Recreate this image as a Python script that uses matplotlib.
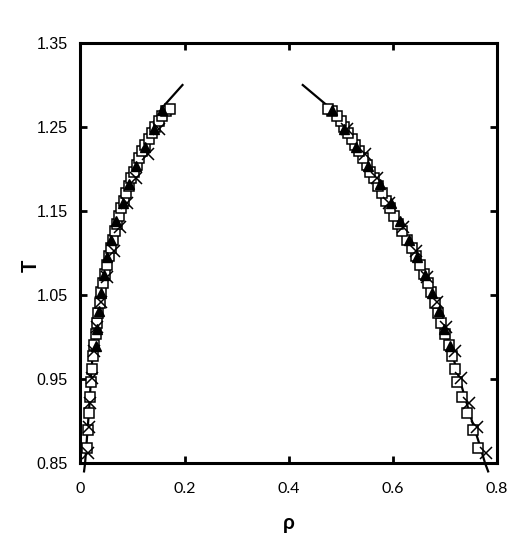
import matplotlib
matplotlib.use("Agg")
import matplotlib.pyplot as plt

# coexistence curve (solid line)
line_T = [0.84, 0.85, 0.875, 0.90, 0.925, 0.95, 0.975, 1.00, 1.025, 1.05, 1.075,
          1.10, 1.125, 1.15, 1.175, 1.20, 1.225, 1.25, 1.275, 1.30]
line_rho_low = [0.007, 0.009, 0.012, 0.015, 0.018, 0.020, 0.023, 0.027, 0.032, 0.037, 0.045,
                0.053, 0.063, 0.074, 0.087, 0.101, 0.117, 0.135, 0.160, 0.196]
line_rho_high = [0.783, 0.777, 0.765, 0.752, 0.740, 0.728, 0.716, 0.704, 0.691, 0.676, 0.659,
                 0.640, 0.619, 0.597, 0.577, 0.557, 0.535, 0.512, 0.475, 0.427]

# open squares
sq_T = [0.868, 0.889, 0.910, 0.929, 0.947, 0.962, 0.977, 0.991, 1.004, 1.017,
        1.029, 1.041, 1.053, 1.064, 1.075, 1.086, 1.096, 1.106, 1.116, 1.126,
        1.135, 1.144, 1.153, 1.162, 1.171, 1.180, 1.189, 1.197, 1.205, 1.213,
        1.221, 1.229, 1.236, 1.243, 1.250, 1.257, 1.263, 1.269, 1.272]
sq_rho_low = [0.013, 0.015, 0.017, 0.019, 0.021, 0.022, 0.024, 0.026, 0.029, 0.031,
              0.034, 0.037, 0.040, 0.043, 0.047, 0.051, 0.054, 0.058, 0.062, 0.066,
              0.070, 0.074, 0.078, 0.083, 0.088, 0.093, 0.098, 0.103, 0.108, 0.113,
              0.119, 0.125, 0.131, 0.137, 0.143, 0.150, 0.157, 0.164, 0.172]
sq_rho_high = [0.764, 0.753, 0.743, 0.733, 0.724, 0.719, 0.713, 0.707, 0.700, 0.693,
               0.687, 0.680, 0.673, 0.667, 0.660, 0.652, 0.644, 0.636, 0.627, 0.618,
               0.610, 0.602, 0.594, 0.587, 0.579, 0.572, 0.564, 0.557, 0.550, 0.543,
               0.535, 0.528, 0.521, 0.514, 0.507, 0.500, 0.492, 0.484, 0.476]

# filled triangles
tri_T = [0.989, 1.010, 1.031, 1.052, 1.074, 1.095, 1.116, 1.138, 1.160, 1.182,
         1.204, 1.226, 1.248, 1.270]
tri_rho_low = [0.029, 0.031, 0.035, 0.039, 0.046, 0.052, 0.059, 0.068, 0.081, 0.093,
               0.107, 0.124, 0.141, 0.157]
tri_rho_high = [0.710, 0.699, 0.688, 0.676, 0.662, 0.647, 0.631, 0.614, 0.596, 0.575,
                0.553, 0.530, 0.506, 0.483]

# crosses
x_T = [0.862, 0.893, 0.921, 0.951, 0.983, 1.012, 1.042, 1.072, 1.102, 1.131,
       1.160, 1.189, 1.218, 1.248]
x_rho_low = [0.014, 0.016, 0.019, 0.023, 0.026, 0.032, 0.040, 0.052, 0.064, 0.076,
             0.089, 0.107, 0.130, 0.150]
x_rho_high = [0.778, 0.762, 0.746, 0.730, 0.720, 0.702, 0.685, 0.666, 0.645, 0.620,
              0.592, 0.569, 0.546, 0.512]

x_ticks = [0, 0.2, 0.4, 0.6, 0.8]
x_ticklabels = ["0", "0.2", "0.4", "0.6", "0.8"]
y_ticks = [0.85, 0.95, 1.05, 1.15, 1.25, 1.35]
y_ticklabels = ["0.85", "0.95", "1.05", "1.15", "1.25", "1.35"]

fig = plt.figure(figsize=(5.29, 5.35), dpi=100)
ax = fig.add_axes([0.152, 0.1346, 0.7875, 0.785])

for rho in (line_rho_low, line_rho_high):
    ax.plot(rho, line_T, "k-", lw=1.6, clip_on=False, zorder=2)

for rho in (sq_rho_low, sq_rho_high):
    ax.plot(rho, sq_T, "s", ms=7, mfc="white", mec="black", mew=1.1, ls="none", zorder=3)
for rho in (tri_rho_low, tri_rho_high):
    ax.plot(rho, tri_T, "^", ms=6.5, mfc="black", mec="black", ls="none", zorder=4)
for rho in (x_rho_low, x_rho_high):
    ax.plot(rho, x_T, "x", ms=8, mec="black", mew=1.1, ls="none", zorder=5)

ax.set_xlim(0, 0.8)
ax.set_ylim(0.85, 1.35)
ax.set_xticks(x_ticks)
ax.set_xticklabels(x_ticklabels, family="Lato", fontsize=11.5)
ax.set_yticks(y_ticks)
ax.set_yticklabels(y_ticklabels, family="Liberation Sans", fontsize=11.5)
ax.tick_params(direction="in", length=5, width=2, top=True, right=True, pad=9)
ax.tick_params(axis="x", pad=14)

for s in ax.spines.values():
    s.set_linewidth(2.2)

ax.set_xlabel("ρ", family="Lato", fontsize=15, fontweight="bold", labelpad=12)
ax.set_ylabel("T", family="Lato", fontsize=15, fontweight="bold")
ax.yaxis.set_label_coords(-0.094, 0.47)

fig.savefig("out.png", dpi=100)
plt.close(fig)
